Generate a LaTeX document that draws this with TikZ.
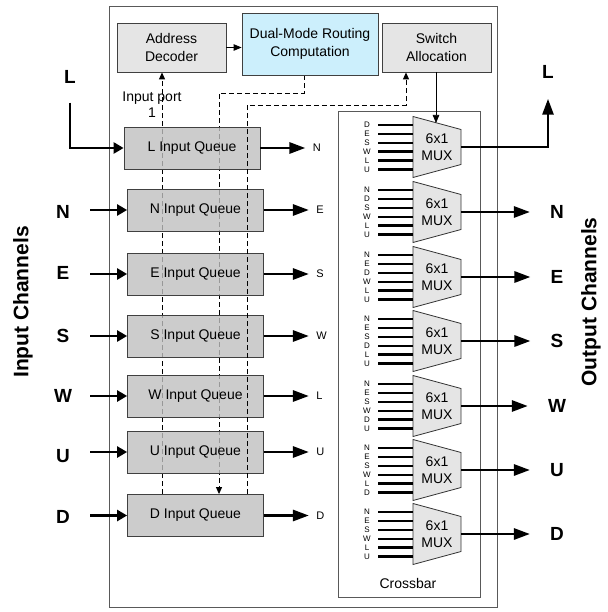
\documentclass[tikz,border=0pt]{standalone}
\usepackage{fontspec}
\setmainfont{Liberation Sans}
\usetikzlibrary{arrows.meta}
\pgfdeclarelayer{behind}
\pgfsetlayers{behind,main}

\tikzset{
	hdrbox/.style={draw=black!75, fill=black!10, line width=0.8pt, minimum width=109pt, minimum height=49pt, inner sep=0pt, align=center, font=\fontsize{14}{17.5}\selectfont},
	rcbox/.style={hdrbox, fill=cyan!20, minimum width=136pt, minimum height=62pt},
	queue/.style={draw=black!75, fill=black!25, fill opacity=0.8, text opacity=1, line width=0.8pt, minimum width=136pt, minimum height=42pt, inner sep=0pt, font=\fontsize{14}{17}\selectfont},
	boxtext/.style={inner sep=0pt, align=center, font=\fontsize{14}{16}\selectfont},
	chanlbl/.style={inner sep=0pt, font=\fontsize{19}{22}\selectfont\bfseries},
	chantitle/.style={inner sep=0pt, rotate=90, font=\fontsize{21}{24}\selectfont\bfseries},
	portlbl/.style={inner sep=0pt, anchor=west, font=\fontsize{11}{13}\selectfont},
	muxlbl/.style={inner sep=0pt, font=\fontsize{8}{8}\selectfont},
	muxbody/.style={draw=black!80, fill=black!10, line width=0.8pt},
	muxtext/.style={inner sep=0pt, align=center, font=\fontsize{14}{17}\selectfont},
	muxin/.style={line width=2.4pt},
	inarrow/.style={line width=2.8pt, -{Triangle[length=10pt,width=11pt]}},
	outarrow/.style={line width=2.8pt, -{Triangle[length=16pt,width=11pt]}},
	ctrlarrow/.style={line width=0.8pt, -{Triangle[length=8pt,width=6.5pt]}},
	ctrldash/.style={line width=0.9pt, dash pattern=on 5pt off 3pt, -{Triangle[length=7pt,width=6pt]}},
}

% one 6x1 multiplexer of the crossbar: (name,centre y){input letters}
\def\muxunit(#1,#2)#3{%
	\draw[muxbody] (413,{#2-30.5}) -- (461,{#2-17.5}) -- (461,{#2+17.5}) -- (413,{#2+30.5}) -- cycle;
	\node[muxtext] (#1) at (437,#2) {6x1\\MUX};
	\coordinate (#1-out) at (461,#2);
	\coordinate (#1-top) at (436,{#2-24});
	\foreach \ltr [count=\k] in {#3}{%
		\draw[muxin] (378,{#2-22+(\k-1)*8.9}) -- (413,{#2-22+(\k-1)*8.9});
		\node[muxlbl] at (367,{#2-22+(\k-1)*8.9}) {\ltr};
	}%
}

\begin{document}
\begin{tikzpicture}[x=1pt, y=-1pt]
		%%%%% START %%%%%
		\useasboundingbox (0,0) rectangle (607,612);
		
		\draw[line width=0.8pt, color=black!65] (109,6) rectangle (497,607);
		\draw[line width=0.8pt, color=black!65] (338,111) rectangle (480,597);
		\node[boxtext] (xbar) at (408,583) {Crossbar};
		
		\node[hdrbox] (addr) at (171.5,47.5) {Address\\Decoder};
		\node[rcbox] (route) at (310,44) {Dual-Mode Routing\\Computation};
		\node[hdrbox] (salloc) at (436.5,47.5) {Switch\\Allocation};
		\draw[ctrlarrow] (addr.east) -- (addr.east -| route.west);
		
		\node[boxtext] (port1) at (152,105) {Input port\\1};
		
		\node[queue] (qL) at (192,148) {L Input Queue};
		\node[queue] (qN) at (195.5,210) {N Input Queue};
		\node[queue] (qE) at (195.5,274) {E Input Queue};
		\node[queue] (qS) at (195.5,336) {S Input Queue};
		\node[queue] (qW) at (195.5,396) {W Input Queue};
		\node[queue] (qU) at (195.5,452) {U Input Queue};
		\node[queue] (qD) at (195.5,515.5) {D Input Queue};
		
		% control paths, the first two seen through the queues
		\coordinate (colA) at (162,0);
		\coordinate (colB) at (304,93);
		\coordinate (colC) at (219,0);
		\coordinate (colD) at (247,105);
		\coordinate (colE) at (406,105);
		\begin{pgfonlayer}{behind}
			\draw[ctrldash] (qD.north -| colA) -- (addr.south -| colA);
			\draw[ctrldash] (route.south -| colB) -- (colB) -| (colC |- qD.north);
		\end{pgfonlayer}
		\draw[ctrldash] (qD.north -| colD) -- (colD) -- (colE) -- (salloc.south -| colE);
		
		% input channels
		\node[chantitle] (inch) at (23,302) {Input Channels};
		\node[chanlbl] (iL) at (70,77) {L};
		\node[chanlbl] (iN) at (63,212) {N};
		\node[chanlbl] (iE) at (63,273) {E};
		\node[chanlbl] (iS) at (63,336) {S};
		\node[chanlbl] (iW) at (63,396) {W};
		\node[chanlbl] (iU) at (63,456) {U};
		\node[chanlbl] (iD) at (63,517) {D};
		\draw[inarrow, shorten <=19pt] (iL) |- (qL.west);
		\draw[inarrow, shorten <=27pt] (iN.center |- qN) -- (qN.west);
		\draw[inarrow, shorten <=27pt] (iE.center |- qE) -- (qE.west);
		\draw[inarrow, shorten <=27pt] (iS.center |- qS) -- (qS.west);
		\draw[inarrow, shorten <=27pt] (iW.center |- qW) -- (qW.west);
		\draw[inarrow, shorten <=27pt] (iU.center |- qU) -- (qU.west);
		\draw[inarrow, shorten <=27pt] (iD.center |- qD) -- (qD.west);
		
		% queue outputs towards the crossbar
		\draw[outarrow] (qL.east) -- ++(45,0) node[portlbl, xshift=6pt] {N};
		\draw[outarrow] (qN.east) -- ++(45,0) node[portlbl, xshift=6pt] {E};
		\draw[outarrow] (qE.east) -- ++(45,0) node[portlbl, xshift=6pt] {S};
		\draw[outarrow] (qS.east) -- ++(45,0) node[portlbl, xshift=6pt] {W};
		\draw[outarrow] (qW.east) -- ++(45,0) node[portlbl, xshift=6pt] {L};
		\draw[outarrow] (qU.east) -- ++(45,0) node[portlbl, xshift=6pt] {U};
		\draw[outarrow] (qD.east) -- ++(45,0) node[portlbl, xshift=6pt] {D};
		
		% crossbar
		\muxunit(m1,147){D,E,S,W,L,U}
		\muxunit(m2,212){N,D,S,W,L,U}
		\muxunit(m3,277){N,E,D,W,L,U}
		\muxunit(m4,341){N,E,S,D,L,U}
		\muxunit(m5,406){N,E,S,W,D,U}
		\muxunit(m6,470){N,E,S,W,L,D}
		\muxunit(m7,534){N,E,S,W,L,U}
		\draw[ctrlarrow, line width=0.6pt] (salloc.south -| m1-top) -- (m1-top);
		
		% output channels
		\node[chantitle] (outch) at (591,302) {Output Channels};
		\node[chanlbl] (oL) at (548,72) {L};
		\node[chanlbl] (oN) at (557,212) {N};
		\node[chanlbl] (oE) at (557,277) {E};
		\node[chanlbl] (oS) at (557,341) {S};
		\node[chanlbl] (oW) at (557,406) {W};
		\node[chanlbl] (oU) at (557,470) {U};
		\node[chanlbl] (oD) at (557,534) {D};
		\draw[outarrow, shorten >=20pt] (m1-out) -| (oL);
		\draw[outarrow, shorten >=20pt] (m2-out) -- (oN);
		\draw[outarrow, shorten >=20pt] (m3-out) -- (oE);
		\draw[outarrow, shorten >=20pt] (m4-out) -- (oS);
		\draw[outarrow, shorten >=20pt] (m5-out) -- (oW);
		\draw[outarrow, shorten >=20pt] (m6-out) -- (oU);
		\draw[outarrow, shorten >=20pt] (m7-out) -- (oD);
		
		%%%%% END %%%%%
\end{tikzpicture}
\end{document}
